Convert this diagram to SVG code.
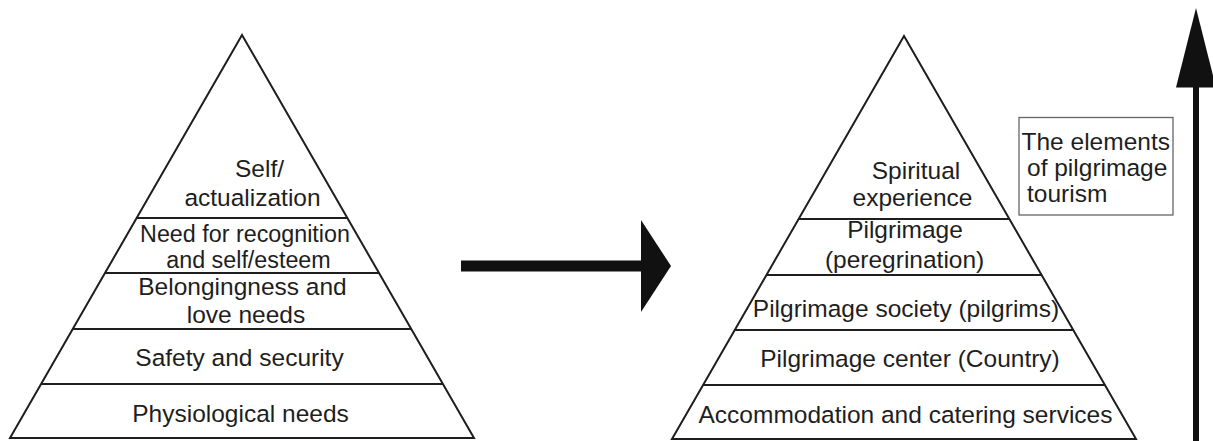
<svg xmlns="http://www.w3.org/2000/svg" width="1213" height="441" viewBox="0 0 1213 441">
<style>
.t{font-family:"Liberation Sans",Arial,sans-serif;font-size:24.5px;fill:#1e1e1e;text-anchor:middle}
.ts{font-size:23.3px}
.tl{font-family:"Liberation Sans",Arial,sans-serif;font-size:24.5px;fill:#1e1e1e}
.ln{stroke:#1e1e1e;stroke-width:2;fill:none;stroke-linejoin:miter}
.box{stroke:#666;stroke-width:1.3;fill:#fff}
.ah{fill:#111}
</style>
<rect width="1213" height="441" fill="#fff"/>
<g id="pyramid-left">
<polygon class="ln" points="242,35 10,438 474,438"/>
<line class="ln" x1="136.7" y1="218" x2="347.3" y2="218"/>
<line class="ln" x1="105" y1="273" x2="379" y2="273"/>
<line class="ln" x1="72.7" y1="329" x2="411.3" y2="329"/>
<line class="ln" x1="41.1" y1="384" x2="442.9" y2="384"/>
</g>
<g id="level-self-actualization">
<text class="t" x="259.5" y="177">Self/</text>
<text class="t" x="252.5" y="206">actualization</text>
</g>
<g id="level-recognition">
<text class="t ts" x="245" y="242">Need for recognition</text>
<text class="t ts" x="248.5" y="268">and self/esteem</text>
</g>
<g id="level-belongingness">
<text class="t" x="242.5" y="295">Belongingness and</text>
<text class="t" x="246" y="323">love needs</text>
</g>
<g id="level-safety">
<text class="t" x="239.5" y="366">Safety and security</text>
</g>
<g id="level-physiological">
<text class="t" x="240.5" y="422">Physiological needs</text>
</g>
<g id="pyramid-right">
<polygon class="ln" points="904,36 672,439 1136,439"/>
<line class="ln" x1="798.7" y1="219" x2="1009.3" y2="219"/>
<line class="ln" x1="766.4" y1="275" x2="1041.6" y2="275"/>
<line class="ln" x1="734.8" y1="330" x2="1073.2" y2="330"/>
<line class="ln" x1="703.1" y1="385" x2="1104.9" y2="385"/>
</g>
<g id="level-spiritual">
<text class="t" x="916" y="179">Spiritual</text>
<text class="t" x="912.5" y="206">experience</text>
</g>
<g id="level-pilgrimage">
<text class="t" x="905" y="238">Pilgrimage</text>
<text class="t" x="904.6" y="268">(peregrination)</text>
</g>
<g id="level-society">
<text class="t" x="906" y="317">Pilgrimage society (pilgrims)</text>
</g>
<g id="level-center">
<text class="t" x="910" y="367">Pilgrimage center (Country)</text>
</g>
<g id="level-accommodation">
<text class="t" x="905.5" y="423">Accommodation and catering services</text>
</g>
<g id="label-elements">
<rect class="box" x="1019" y="117.5" width="154" height="97.5"/>
<text class="tl" x="1021.5" y="150">The elements</text>
<text class="tl" x="1027" y="176">of pilgrimage</text>
<text class="tl" x="1027" y="202">tourism</text>
</g>
<g id="connectors">
<rect class="ah" x="461" y="260.5" width="181" height="11"/>
<polygon class="ah" points="641,220 671,266 641,312"/>
<rect class="ah" x="1193" y="86" width="6" height="355"/>
<polygon class="ah" points="1196,8 1216,87.5 1176,87.5"/>
</g>
</svg>
